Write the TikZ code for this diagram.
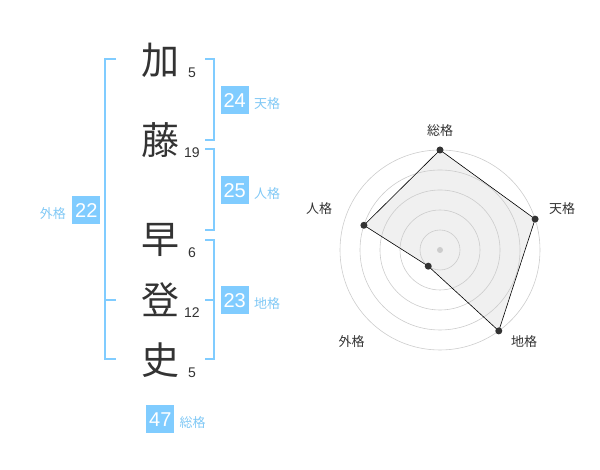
\documentclass[tikz,border=0pt]{standalone}
\usepackage{fontspec}
\setmainfont{Liberation Sans}
\newfontfamily\jpfont{Noto Sans CJK JP}
\usetikzlibrary{positioning}
\definecolor{kakublue}{RGB}{128,204,255}
\definecolor{kakutext}{RGB}{128,200,245}
\definecolor{kakugray}{RGB}{51,51,51}

\begin{document}
\begin{tikzpicture}[x=1pt,y=1pt,
    kanji/.style={font=\jpfont\fontsize{38}{38}\selectfont, text=kakugray, inner sep=0pt},
    strokes/.style={font=\fontsize{14}{14}\selectfont, text=kakugray, inner sep=0pt},
    kakubox/.style={fill=kakublue, text=white, minimum size=28pt, inner sep=0pt, font=\fontsize{20}{20}\selectfont},
    kakulabel/.style={font=\jpfont\fontsize{13}{13}\selectfont, text=kakutext, inner sep=0pt},
    bracket/.style={draw=kakublue, line width=1.8pt},
    ring/.style={draw=black!20, line width=0.6pt},
    radarlabel/.style={font=\jpfont\fontsize{13}{13}\selectfont, text=kakugray, inner sep=0pt},
    radardot/.style={circle, fill=kakugray, inner sep=0pt, minimum size=7pt}]
    \useasboundingbox (0,0) rectangle (600,470);
    \node[kanji] (ka) at (160,410) {加};
    \node[kanji] (to) at (160,330) {藤};
    \node[kanji] (haya) at (160,230) {早};
    \node[kanji] (nobo) at (160,170) {登};
    \node[kanji] (shi) at (160,110) {史};
    \node[strokes] (ka-n) at (192,397.3) {5};
    \node[strokes] (to-n) at (192,317.3) {19};
    \node[strokes] (haya-n) at (192,217.3) {6};
    \node[strokes] (nobo-n) at (192,157.3) {12};
    \node[strokes] (shi-n) at (192,97.3) {5};
    \draw[bracket] (205,410.7) -- (214,410.7) -- (214,330) -- (205,330);
    \draw[bracket] (205,320.7) -- (214,320.7) -- (214,240) -- (205,240);
    \draw[bracket] (205,230) -- (214,230) -- (214,110.7) -- (205,110.7);
    \draw[bracket] (205,170) -- (214,170);
    \draw[bracket] (116,410.7) -- (105,410.7) -- (105,110.7) -- (116,110.7);
    \draw[bracket] (105,170) -- (116,170);
    \node[kakubox] (ten) at (234.7,369.7) {24};
    \node[kakubox] (jin) at (234.7,279.7) {25};
    \node[kakubox] (chi) at (234.7,169.7) {23};
    \node[kakubox] (gai) at (86.3,259.7) {22};
    \node[kakubox] (sou) at (160.3,50.7) {47};
    \node[kakulabel, right=5pt of ten, yshift=-3.5pt] (ten-l) {天格};
    \node[kakulabel, right=5pt of jin, yshift=-3.5pt] (jin-l) {人格};
    \node[kakulabel, right=5pt of chi, yshift=-3.5pt] (chi-l) {地格};
    \node[kakulabel, left=6pt of gai, yshift=-3.5pt] (gai-l) {外格};
    \node[kakulabel, right=5pt of sou, yshift=-3.5pt] (sou-l) {総格};

    \coordinate (c) at (440,220);
    \coordinate (r-sou) at ([shift={(90:100)}]c);
    \coordinate (r-ten) at ([shift={(18:100)}]c);
    \coordinate (r-chi) at ([shift={(-54:100)}]c);
    \coordinate (r-gai) at ([shift={(-126:20)}]c);
    \coordinate (r-jin) at ([shift={(162:80)}]c);
    \fill[black!6] (r-sou) -- (r-ten) -- (r-chi) -- (r-gai) -- (r-jin) -- cycle;
    \foreach \r in {20,40,...,100}
        \draw[ring] (c) circle (\r);
    \fill[black!20] (c) circle (3);
    \draw[black, line width=0.6pt] (r-sou) -- (r-ten) -- (r-chi) -- (r-gai) -- (r-jin) -- cycle;
    \foreach \p in {sou,ten,chi,gai,jin}
        \node[radardot] at (r-\p) {};
    \node[radarlabel] (sou-r) at (440,339.3) {総格};
    \node[radarlabel] (ten-r) at (562,261) {天格};
    \node[radarlabel] (chi-r) at (524,128.3) {地格};
    \node[radarlabel] (gai-r) at (351.7,128.3) {外格};
    \node[radarlabel] (jin-r) at (319,261) {人格};
\end{tikzpicture}
\end{document}
